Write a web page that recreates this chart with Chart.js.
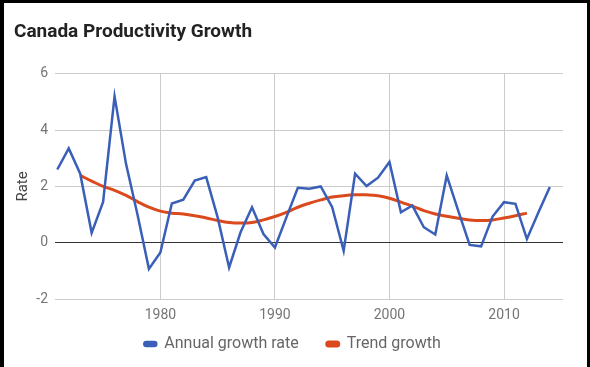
<!DOCTYPE html>
<html>
<head>
<meta charset="utf-8">
<script src="https://cdn.jsdelivr.net/npm/chart.js@4.4.0/dist/chart.umd.min.js"></script>
<style>
  body { margin: 0; background: #fff; }
  #wrap {
    width: 590px; height: 367px; box-sizing: border-box;
    border-top: 3px solid #000; border-left: 4px solid #000; border-right: 3px solid #000;
    background: #fff;
  }
  canvas { display: block; }
</style>
</head>
<body>
<div id="wrap"><canvas id="graphCanvas" width="583" height="364"></canvas></div>
<script>
// data
var years = [1971, 1972, 1973, 1974, 1975, 1976, 1977, 1978, 1979, 1980,
             1981, 1982, 1983, 1984, 1985, 1986, 1987, 1988, 1989, 1990,
             1991, 1992, 1993, 1994, 1995, 1996, 1997, 1998, 1999, 2000,
             2001, 2002, 2003, 2004, 2005, 2006, 2007, 2008, 2009, 2010,
             2011, 2012, 2013, 2014];
var annual_growth = [2.6, 3.35, 2.45, 0.35, 1.45, 5.2, 2.8, 1.0, -0.93, -0.35,
                     1.39, 1.53, 2.21, 2.33, 0.9, -0.88, 0.37, 1.26, 0.31, -0.17,
                     0.9, 1.95, 1.92, 2.0, 1.26, -0.29, 2.45, 2.01, 2.31, 2.87,
                     1.08, 1.32, 0.55, 0.29, 2.39, 1.14, -0.08, -0.13, 0.93, 1.44,
                     1.38, 0.13, 1.07, 1.98];

var trend_years = [1973, 1974, 1975, 1976, 1977, 1978, 1979, 1980, 1981, 1982,
                   1983, 1984, 1985, 1986, 1987, 1988, 1989, 1990, 1991, 1992,
                   1993, 1994, 1995, 1996, 1997, 1998, 1999, 2000, 2001, 2002,
                   2003, 2004, 2005, 2006, 2007, 2008, 2009, 2010, 2011, 2012];
var trend_growth = [2.39, 2.19, 2.0, 1.86, 1.68, 1.46, 1.26, 1.12, 1.05, 1.02,
                    0.96, 0.88, 0.79, 0.72, 0.7, 0.72, 0.81, 0.93, 1.08, 1.26,
                    1.4, 1.52, 1.62, 1.67, 1.7, 1.7, 1.67, 1.58, 1.44, 1.3,
                    1.14, 1.02, 0.94, 0.87, 0.81, 0.79, 0.81, 0.88, 0.96, 1.05];

var x_ticks = [1980, 1990, 2000, 2010];

function toPoints(xs, ys) {
    var pts = [];
    for (var i in xs) {
        pts.push({x: xs[i], y: ys[i]});
    }
    return pts;
}

// nudge the legend row into place, like the original
var legendShift = {
    id: 'legendShift',
    afterLayout: function(chart) {
        if (chart.legend) {
            chart.legend.left += 4;
            chart.legend.right += 4;
            chart.legend.top -= 16;
            chart.legend.bottom -= 16;
        }
    }
};

var chartData = {
    datasets: [{
            label: 'Annual growth rate',
            data: toPoints(years, annual_growth),
            borderColor: '#3a5fb8',
            backgroundColor: '#3a5fb8',
            borderWidth: 2.5,
            pointRadius: 0,
            tension: 0
        },
        {
            label: 'Trend growth',
            data: toPoints(trend_years, trend_growth),
            borderColor: '#db4a1c',
            backgroundColor: '#db4a1c',
            borderWidth: 3,
            pointRadius: 0,
            tension: 0.4
        }
    ]
};

var lineGraph = new Chart(document.getElementById('graphCanvas'), {
    type: 'line',
    data: chartData,
    plugins: [legendShift],
    options: {
        responsive: false,
        animation: false,
        layout: {
            padding: {left: 10, right: 24, top: 0, bottom: 0}
        },
        plugins: {
            title: {
                display: true,
                text: 'Canada Productivity Growth',
                align: 'start',
                color: '#222',
                font: {family: 'Roboto', size: 19, weight: 'bold'},
                padding: {top: 18, bottom: 30}
            },
            legend: {
                position: 'bottom',
                maxHeight: 43,
                labels: {
                    color: '#666',
                    font: {family: 'Roboto', size: 16},
                    boxWidth: 12,
                    boxHeight: 4,
                    useBorderRadius: true,
                    borderRadius: 2,
                    padding: 28
                }
            },
            tooltip: {enabled: false}
        },
        scales: {
            x: {
                type: 'linear',
                min: 1970.8,
                max: 2015.15,
                afterBuildTicks: function(scale) {
                    scale.ticks = x_ticks.map(function(v) { return {value: v}; });
                },
                afterFit: function(scale) {
                    scale.height = 25;
                },
                border: {display: false},
                grid: {color: '#ccc', drawTicks: false},
                ticks: {
                    color: '#757575',
                    font: {family: 'Roboto', size: 14},
                    padding: 8,
                    maxRotation: 0,
                    callback: function(value) { return value; }
                }
            },
            y: {
                min: -2,
                max: 6,
                afterFit: function(scale) {
                    scale.width = 41;
                },
                border: {display: false},
                grid: {
                    drawTicks: false,
                    color: function(context) {
                        return context.tick && context.tick.value === 0 ? '#333' : '#ccc';
                    }
                },
                ticks: {
                    stepSize: 2,
                    color: '#757575',
                    font: {family: 'Roboto', size: 14},
                    padding: 7
                },
                title: {
                    display: true,
                    text: 'Rate',
                    color: '#444',
                    font: {family: 'Roboto', size: 15},
                    padding: 0
                }
            }
        }
    }
});
</script>
</body>
</html>
